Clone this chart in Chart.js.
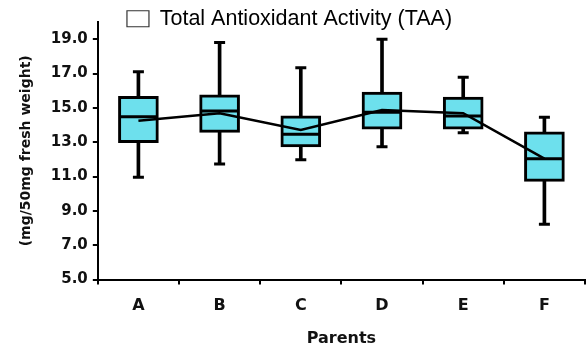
<!DOCTYPE html>
<html>
<head>
<meta charset="utf-8">
<script src="https://cdn.jsdelivr.net/npm/chart.js@4.4.1/dist/chart.umd.min.js"></script>
<style>
  html, body { margin: 0; padding: 0; background: #ffffff; }
  #wrap { width: 586px; height: 353px; position: relative; }
</style>
</head>
<body>
<div id="wrap"><canvas id="c" width="586" height="353"></canvas></div>
<script>
// ---- data ----
const categories = ['A', 'B', 'C', 'D', 'E', 'F'];
const whiskerMin = [10.96, 11.73, 11.98, 12.73, 13.55, 8.22];
const q1         = [12.98, 13.57, 12.73, 13.76, 13.76, 10.72];
const medians    = [14.49, 14.82, 13.47, 14.75, 14.53, 12.04];
const q3         = [15.67, 15.76, 14.53, 15.92, 15.63, 13.60];
const whiskerMax = [17.10, 18.80, 17.33, 19.00, 16.78, 14.45];
const means      = [14.25, 14.69, 13.71, 14.88, 14.69, 12.04];
const yTickValues = [5, 7, 9, 11, 13, 15, 17, 19];
const legendText = 'Total Antioxidant Activity (TAA)';
const xTitle = 'Parents';
const yTitle = '(mg/50mg fresh weight)';

const boxFill = '#6DE0ED';
const ink = '#000000';

const boxes = categories.map((_, i) => [q1[i], q3[i]]);
const upperWhiskers = categories.map((_, i) => [q3[i], whiskerMax[i]]);
const lowerWhiskers = categories.map((_, i) => [whiskerMin[i], q1[i]]);

// The legend overlaps the band above the plot in the reference: keep its layout height
// small, then widen its clip box so the text is not cut, and nudge it left a little.
const legendNudge = {
  id: 'legendNudge',
  afterLayout(chart) {
    const lg = chart.legend;
    if (!lg) return;
    lg.bottom = lg.top + 40;
    lg.height = 40;
    lg.left -= 10;
    lg.right -= 10;
  }
};

new Chart(document.getElementById('c'), {
  type: 'bar',
  data: {
    labels: categories,
    datasets: [
      { type: 'line', label: 'mean', data: means, borderColor: ink, borderWidth: 2.5,
        pointRadius: 0, tension: 0, fill: false, order: 0 },
      { type: 'line', label: 'median', data: medians, showLine: false, pointStyle: 'line',
        pointRadius: 19, pointBorderWidth: 3, pointBorderColor: ink, order: 1 },
      { type: 'bar', label: legendText, data: boxes, backgroundColor: boxFill, borderColor: ink,
        borderWidth: 3, borderSkipped: false, barThickness: 40, grouped: false, order: 2 },
      { type: 'bar', label: 'upper', data: upperWhiskers, backgroundColor: ink, borderWidth: 0,
        barThickness: 3, grouped: false, order: 3 },
      { type: 'bar', label: 'lower', data: lowerWhiskers, backgroundColor: ink, borderWidth: 0,
        barThickness: 3, grouped: false, order: 3 },
      { type: 'line', label: 'capMax', data: whiskerMax, showLine: false, pointStyle: 'line',
        pointRadius: 5.5, pointBorderWidth: 3, pointBorderColor: ink, order: 3 },
      { type: 'line', label: 'capMin', data: whiskerMin, showLine: false, pointStyle: 'line',
        pointRadius: 5.5, pointBorderWidth: 3, pointBorderColor: ink, order: 3 }
    ]
  },
  plugins: [legendNudge],
  options: {
    responsive: false,
    animation: false,
    events: [],
    layout: { autoPadding: false, padding: { left: 14, right: 1, top: 0, bottom: 1 } },
    plugins: {
      tooltip: { enabled: false },
      legend: {
        display: true,
        position: 'top',
        maxHeight: 22,
        labels: {
          boxWidth: 22,
          boxHeight: 16,
          padding: 8,
          color: '#222222',
          font: { family: '"Liberation Sans", Arial, sans-serif', size: 21.5 },
          generateLabels: () => [{
            text: legendText, fillStyle: '#ffffff', strokeStyle: '#333333',
            lineWidth: 1.2, hidden: false, datasetIndex: 2
          }]
        }
      }
    },
    scales: {
      x: {
        offset: true,
        grid: { offset: true, drawOnChartArea: false, drawTicks: true, tickLength: 5,
                color: ink, lineWidth: 2 },
        border: { display: true, color: ink, width: 2 },
        ticks: { color: '#111', padding: 12,
                 font: { family: '"DejaVu Sans", sans-serif', size: 16, weight: 'bold' } },
        title: { display: true, text: xTitle, color: '#111',
                 padding: { top: 1, bottom: 4 },
                 font: { family: '"DejaVu Sans", sans-serif', size: 16, weight: 'bold' } }
      },
      y: {
        min: 5,
        max: 20,
        afterBuildTicks: (scale) => { scale.ticks = yTickValues.map(v => ({ value: v })); },
        grid: { drawOnChartArea: false, drawTicks: true, tickLength: 5, color: ink, lineWidth: 2 },
        border: { display: true, color: ink, width: 2 },
        ticks: { color: '#111', padding: 5,
                 callback: (v) => Number(v).toFixed(1),
                 font: { family: '"DejaVu Sans", sans-serif', size: 15, weight: 'bold' } },
        title: { display: true, text: yTitle, color: '#111',
                 padding: { top: 4, bottom: 11 },
                 font: { family: '"DejaVu Sans", sans-serif', size: 14, weight: 'bold' } }
      }
    }
  }
});
</script>
</body>
</html>
